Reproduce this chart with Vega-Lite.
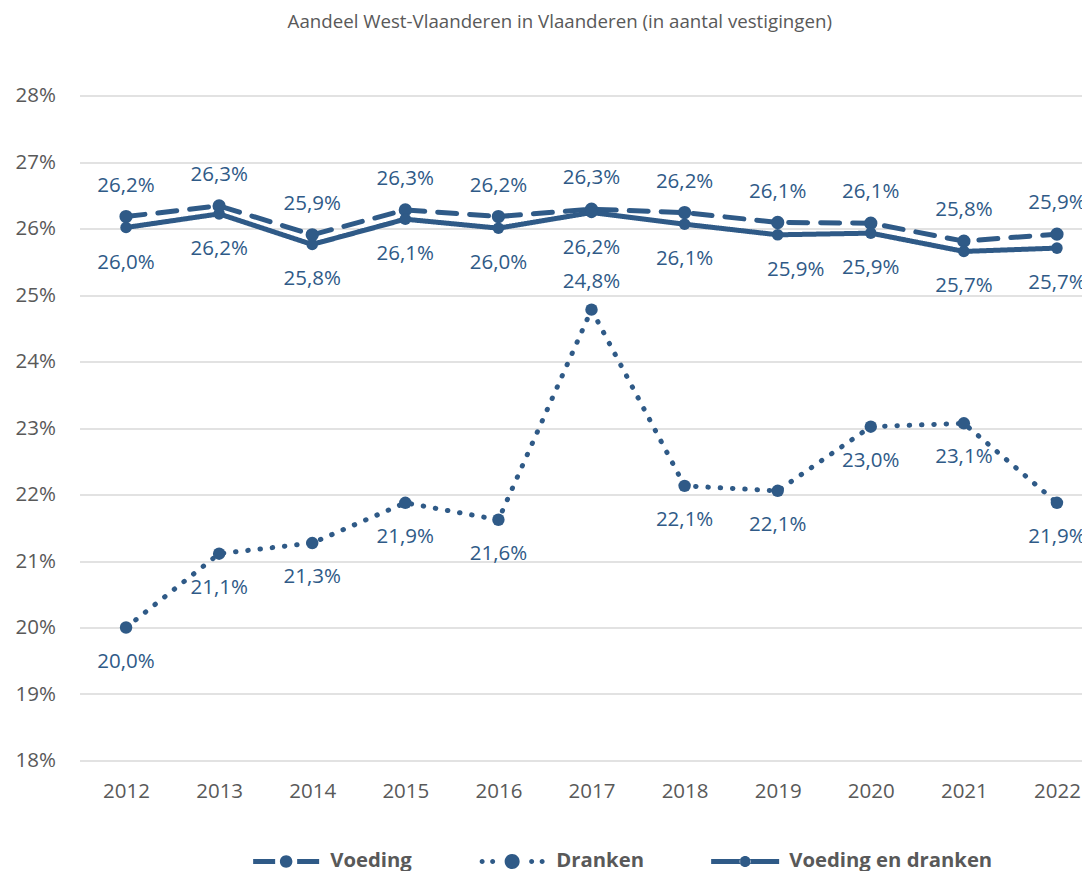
{
  "$schema": "https://vega.github.io/schema/vega-lite/v6.json",
  "width": 1002.5,
  "height": 665,
  "autosize": "none",
  "padding": {"left": 79.5, "top": 95.5, "right": 0, "bottom": 110.5},
  "background": "white",
  "config": {
    "locale": {"number": {"decimal": ",", "thousands": ".", "grouping": [3], "currency": ["€", ""]}},
    "view": {"stroke": null},
    "font": "Open Sans"
  },
  "title": {
    "text": "Aandeel West-Vlaanderen in Vlaanderen (in aantal vestigingen)",
    "font": "Open Sans", "fontSize": 18.7, "fontWeight": "normal", "color": "#595959",
    "anchor": "middle", "dx": -21, "offset": 54
  },
  "data": {"values": [
    {"year": "2012", "series": "Voeding", "v": 0.2618},
    {"year": "2013", "series": "Voeding", "v": 0.2634},
    {"year": "2014", "series": "Voeding", "v": 0.25905},
    {"year": "2015", "series": "Voeding", "v": 0.2628},
    {"year": "2016", "series": "Voeding", "v": 0.2618},
    {"year": "2017", "series": "Voeding", "v": 0.2629},
    {"year": "2018", "series": "Voeding", "v": 0.2624},
    {"year": "2019", "series": "Voeding", "v": 0.2609},
    {"year": "2020", "series": "Voeding", "v": 0.2608},
    {"year": "2021", "series": "Voeding", "v": 0.2581},
    {"year": "2022", "series": "Voeding", "v": 0.25915},
    {"year": "2012", "series": "Dranken", "v": 0.2000},
    {"year": "2013", "series": "Dranken", "v": 0.2111},
    {"year": "2014", "series": "Dranken", "v": 0.2127},
    {"year": "2015", "series": "Dranken", "v": 0.21875},
    {"year": "2016", "series": "Dranken", "v": 0.2162},
    {"year": "2017", "series": "Dranken", "v": 0.2478},
    {"year": "2018", "series": "Dranken", "v": 0.2213},
    {"year": "2019", "series": "Dranken", "v": 0.22055},
    {"year": "2020", "series": "Dranken", "v": 0.2302},
    {"year": "2021", "series": "Dranken", "v": 0.2307},
    {"year": "2022", "series": "Dranken", "v": 0.21875},
    {"year": "2012", "series": "Voeding en dranken", "v": 0.26015},
    {"year": "2013", "series": "Voeding en dranken", "v": 0.2622},
    {"year": "2014", "series": "Voeding en dranken", "v": 0.2576},
    {"year": "2015", "series": "Voeding en dranken", "v": 0.2614},
    {"year": "2016", "series": "Voeding en dranken", "v": 0.26005},
    {"year": "2017", "series": "Voeding en dranken", "v": 0.2624},
    {"year": "2018", "series": "Voeding en dranken", "v": 0.26065},
    {"year": "2019", "series": "Voeding en dranken", "v": 0.25905},
    {"year": "2020", "series": "Voeding en dranken", "v": 0.2593},
    {"year": "2021", "series": "Voeding en dranken", "v": 0.25655},
    {"year": "2022", "series": "Voeding en dranken", "v": 0.25705}
  ]},
  "encoding": {
    "x": {
      "field": "year", "type": "ordinal",
      "scale": {"type": "point", "range": [0, 1024], "padding": 0.5},
      "axis": {
        "title": null, "domain": false, "ticks": false, "grid": false,
        "labelAngle": 0, "labelFont": "Open Sans", "labelFontSize": 20.5,
        "labelColor": "#595959", "labelPadding": 21
      }
    },
    "y": {
      "field": "v", "type": "quantitative",
      "scale": {"domain": [0.18, 0.28], "nice": false, "zero": false},
      "axis": {
        "title": null, "domain": false, "ticks": false, "format": ".0%",
        "values": [0.18, 0.19, 0.2, 0.21, 0.22, 0.23, 0.24, 0.25, 0.26, 0.27, 0.28],
        "labelFont": "Open Sans", "labelFontSize": 20.5, "labelColor": "#595959",
        "labelPadding": 24, "gridColor": "#D9D9D9", "gridWidth": 1.6
      }
    }
  },
  "layer": [
    {
      "mark": {"type": "line", "strokeWidth": 5, "strokeCap": "round", "strokeJoin": "round", "color": "#2F5A87"},
      "encoding": {
        "strokeDash": {
          "field": "series", "type": "nominal",
          "scale": {"domain": ["Dranken", "Voeding", "Voeding en dranken"], "range": [[0.5, 11.8], [19, 13], [1, 0]]},
          "legend": null
        }
      }
    },
    {
      "mark": {"type": "point", "filled": true, "opacity": 1, "color": "#2F5A87"},
      "encoding": {
        "size": {
          "field": "series", "type": "nominal",
          "scale": {"domain": ["Voeding en dranken", "Dranken", "Voeding"], "range": [133, 177, 133]},
          "legend": null
        }
      }
    },
    {
      "transform": [{"filter": "datum.year === 'geen'"}],
      "mark": {"type": "point", "filled": true, "opacity": 1, "color": "#2F5A87", "strokeWidth": 0},
      "encoding": {
        "shape": {
          "field": "series", "type": "nominal",
          "scale": {
            "domain": ["Voeding", "Dranken", "Voeding en dranken"],
            "range": [
              "M-6.6,-0.5H-2.2V0.5H-6.6Z M2.2,-0.5H6.6V0.5H2.2Z M-1.25,0A1.25,1.25 0 1,0 1.25,0A1.25,1.25 0 1,0 -1.25,0Z",
              "M-6.5,0A0.5,0.5 0 1,0 -5.5,0A0.5,0.5 0 1,0 -6.5,0Z M-4.4,0A0.5,0.5 0 1,0 -3.4,0A0.5,0.5 0 1,0 -4.4,0Z M3.4,0A0.5,0.5 0 1,0 4.4,0A0.5,0.5 0 1,0 3.4,0Z M5.5,0A0.5,0.5 0 1,0 6.5,0A0.5,0.5 0 1,0 5.5,0Z M-1.5,0A1.5,1.5 0 1,0 1.5,0A1.5,1.5 0 1,0 -1.5,0Z",
              "M-6.8,-0.5H-1V0.5H-6.8Z M1,-0.5H6.8V0.5H1Z M-1.1,0A1.1,1.1 0 1,0 1.1,0A1.1,1.1 0 1,0 -1.1,0Z"
            ]
          },
          "legend": {
            "orient": "none", "legendX": 196.5, "legendY": 755.5, "direction": "horizontal",
            "title": null, "symbolSize": 100, "symbolStrokeWidth": 0,
            "symbolFillColor": "#2F5A87", "labelLimit": 400,
            "labelFont": "Open Sans", "labelFontSize": 20.3, "labelFontWeight": "bold",
            "labelColor": "#595959", "labelOffset": 34, "columnPadding": 67
          }
        }
      }
    },
    {
      "transform": [{"filter": "datum.series === 'Voeding'"}],
      "mark": {"type": "text", "font": "Open Sans", "fontSize": 20.5, "color": "#2F5A87", "dy": -31},
      "encoding": {"text": {"field": "v", "type": "quantitative", "format": ".1%"}}
    },
    {
      "transform": [{"filter": "datum.series === 'Voeding en dranken' && datum.year !== '2019'"}],
      "mark": {"type": "text", "font": "Open Sans", "fontSize": 20.5, "color": "#2F5A87", "dy": 35},
      "encoding": {"text": {"field": "v", "type": "quantitative", "format": ".1%"}}
    },
    {
      "transform": [{"filter": "datum.series === 'Voeding en dranken' && datum.year === '2019'"}],
      "mark": {"type": "text", "font": "Open Sans", "fontSize": 20.5, "color": "#2F5A87", "dy": 35, "dx": 18},
      "encoding": {"text": {"field": "v", "type": "quantitative", "format": ".1%"}}
    },
    {
      "transform": [{"filter": "datum.series === 'Dranken' && datum.year !== '2017'"}],
      "mark": {"type": "text", "font": "Open Sans", "fontSize": 20.5, "color": "#2F5A87", "dy": 34},
      "encoding": {"text": {"field": "v", "type": "quantitative", "format": ".1%"}}
    },
    {
      "transform": [{"filter": "datum.series === 'Dranken' && datum.year === '2017'"}],
      "mark": {"type": "text", "font": "Open Sans", "fontSize": 20.5, "color": "#2F5A87", "dy": -28},
      "encoding": {"text": {"field": "v", "type": "quantitative", "format": ".1%"}}
    }
  ]
}
